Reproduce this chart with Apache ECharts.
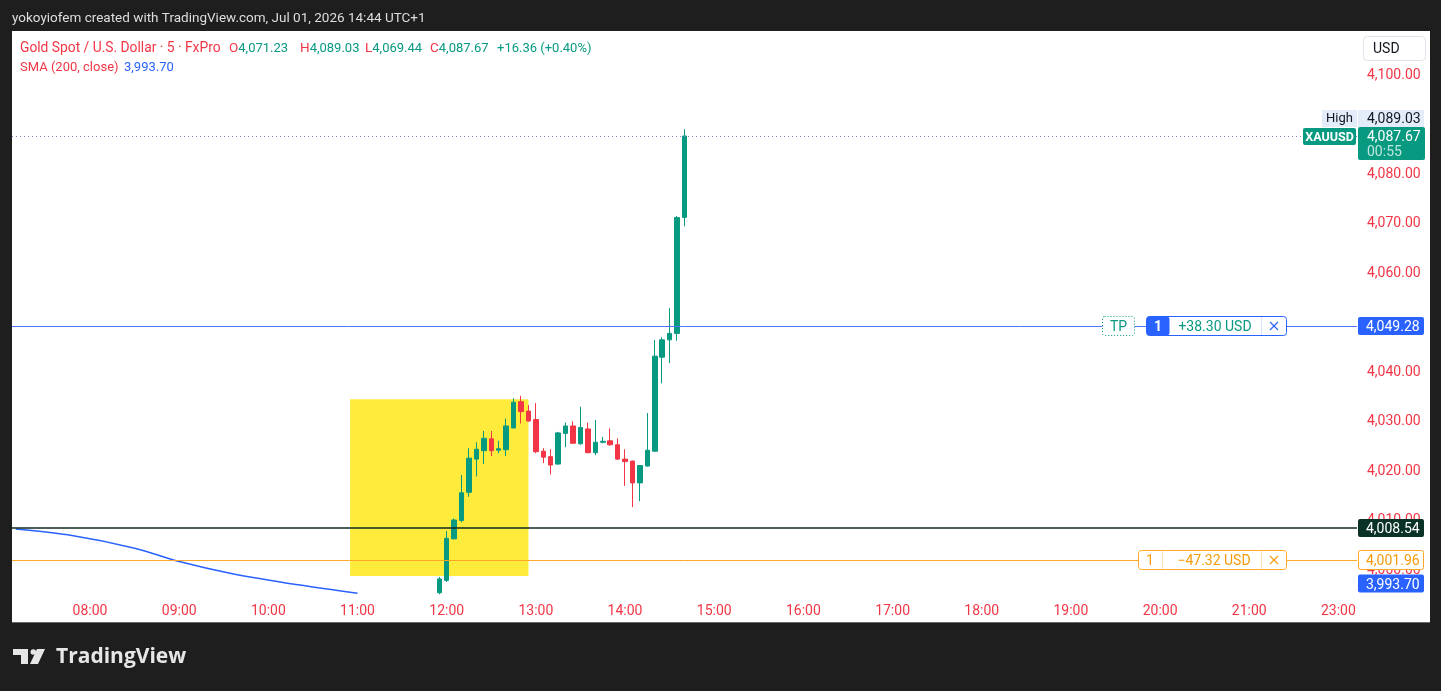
<!DOCTYPE html>
<html>
<head>
<meta charset="utf-8">
<script src="https://cdn.jsdelivr.net/npm/echarts@6/dist/echarts.min.js"></script>
<style>
html,body{margin:0;padding:0;background:#1e1e1e;}
#chart{width:1441px;height:691px;}
</style>
</head>
<body>
<div id="chart"></div>
<script>
// ---- data ----
const sessions = [['07:10', '21:55'], ['23:00', '23:10']];
const candleTimes = ['11:55','12:00','12:05','12:10','12:15','12:20','12:25','12:30','12:35','12:40','12:45','12:50','12:55','13:00','13:05','13:10','13:15','13:20','13:25','13:30','13:35','13:40','13:45','13:50','13:55','14:00','14:05','14:10','14:15','14:20','14:25','14:30','14:35','14:40'];
const opens  = [3995.4,3997.9,4006.3,4010.0,4015.7,4022.4,4024.1,4026.5,4024.2,4024.3,4028.7,4034.0,4032.1,4030.4,4024.0,4022.9,4021.4,4027.6,4029.1,4025.5,4028.5,4023.7,4025.8,4026.1,4025.3,4022.4,4022.0,4017.6,4021.0,4024.0,4043.0,4046.5,4047.8,4071.23];
const highs  = [3998.6,4007.9,4010.4,4019.2,4024.6,4025.8,4028.1,4028.1,4026.1,4030.6,4034.7,4035.2,4033.3,4033.7,4024.6,4024.4,4027.9,4029.8,4030.0,4033.0,4029.8,4030.3,4026.9,4028.6,4026.6,4024.4,4022.1,4021.2,4031.7,4046.5,4047.0,4052.9,4071.5,4089.03];
const lows   = [3995.1,3997.6,4006.2,4009.6,4014.8,4018.9,4021.4,4023.0,4023.6,4023.0,4028.6,4029.6,4030.0,4023.6,4021.6,4019.3,4021.3,4024.8,4025.6,4025.3,4023.6,4023.2,4025.6,4025.1,4022.2,4017.0,4012.7,4013.9,4020.9,4023.9,4037.7,4041.8,4046.3,4069.44];
const closes = [3998.2,4006.4,4010.1,4015.6,4022.6,4024.4,4026.6,4024.1,4024.5,4029.1,4033.9,4032.0,4030.1,4023.9,4022.8,4021.2,4027.7,4029.1,4025.6,4028.8,4023.7,4025.8,4026.0,4025.3,4022.4,4021.9,4017.6,4021.1,4024.2,4043.2,4046.5,4047.8,4071.2,4087.67];
const smaTimes  = ['07:10','07:45','08:30','09:00','09:35','10:20','11:00'];
const smaValues = [4008.3,4007.1,4004.4,4001.7,3999.3,3997.0,3995.3];
const yTicks = { min: 3990, max: 4110, interval: 10 };
const coveredTicks = [4090, 4050];
const levels = { high: 4089.03, last: 4087.67, tp: 4049.28, entry: 4008.54, sl: 4001.96, sma: 3993.70 };
const zone = { start: '10:55', end: '12:55', top: 4034.5, bottom: 3998.8 };
const tpText = '+38.30 USD', slText = '\u221247.32 USD', qty = '1', countdown = '00:55', change = '+16.36 (+0.40%)';

// ---- categories ----
function toMin(s){const p=s.split(':');return (+p[0])*60+(+p[1]);}
function toStr(m){const h=Math.floor(m/60),mm=m%60;return (h<10?'0':'')+h+':'+(mm<10?'0':'')+mm;}
const categories = [];
sessions.forEach(s => { for (let m = toMin(s[0]); m <= toMin(s[1]); m += 5) categories.push(toStr(m)); });

const candleData = categories.map(() => '-');
candleTimes.forEach((t, i) => { candleData[categories.indexOf(t)] = [opens[i], closes[i], lows[i], highs[i]]; });
const smaData = categories.map(() => null);
smaTimes.forEach((t, i) => { smaData[categories.indexOf(t)] = smaValues[i]; });

const fmt = v => v.toLocaleString('en-US', { minimumFractionDigits: 2, maximumFractionDigits: 2 });
const FONT = 'Roboto';
const UP = '#089981', DOWN = '#f23645', BLUE = '#2962ff', ORANGE = '#ffa726', ORTXT = '#f59b0b';

const chart = echarts.init(document.getElementById('chart'));
chart.setOption({
  backgroundColor: '#1e1e1e',
  animation: false,
  grid: { left: 12, right: 84, top: 25.5, bottom: 71.5 },
  xAxis: {
    type: 'category', data: categories, boundaryGap: true,
    axisLine: { show: false }, axisTick: { show: false }, splitLine: { show: false },
    axisLabel: { inside: true, margin: 1, color: DOWN, fontSize: 14, fontFamily: FONT,
      interval: (i, v) => v.endsWith(':00') }
  },
  yAxis: {
    type: 'value', position: 'right', min: yTicks.min, max: yTicks.max, interval: yTicks.interval, scale: true,
    axisLine: { show: false }, axisTick: { show: false }, splitLine: { show: false },
    axisLabel: { color: DOWN, fontSize: 14, fontFamily: FONT, margin: 10,
      formatter: v => (v <= yTicks.min || v >= yTicks.max || coveredTicks.indexOf(v) >= 0) ? '' : fmt(v) }
  },
  series: [
    {
      type: 'line', data: [], z: 1, silent: true,
      markArea: { silent: true, itemStyle: { color: '#ffeb3b' },
        data: [[{ xAxis: zone.start, yAxis: zone.top }, { xAxis: zone.end, yAxis: zone.bottom }]] }
    },
    {
      name: 'SMA', type: 'line', data: smaData, connectNulls: true, symbol: 'none', z: 2, smooth: 0.35,
      lineStyle: { color: BLUE, width: 1.5 }, silent: true
    },
    {
      type: 'candlestick', data: candleData, barWidth: 5, z: 3,
      itemStyle: { color: UP, color0: DOWN, borderColor: UP, borderColor0: DOWN, borderWidth: 1 },
      markLine: {
        silent: true, symbol: ['none', 'none'], label: { show: false },
        data: [
          { yAxis: levels.last, lineStyle: { color: '#8a7fd0', type: [1, 3], width: 1.2 } },
          { yAxis: levels.tp, lineStyle: { color: '#4c74ff', type: 'solid', width: 1 } },
          { yAxis: levels.entry, lineStyle: { color: '#0d2a20', type: 'solid', width: 1.5 } },
          { yAxis: levels.sl, lineStyle: { color: ORANGE, type: 'solid', width: 1 } }
        ]
      }
    }
  ]
});

const Y = v => chart.convertToPixel({ yAxisIndex: 0 }, v);
const TY = 1.5; // text vertical nudge
function rect(x, y, w, h, fill, extra) { return { type: 'rect', z: 100, shape: { x, y, width: w, height: h, r: (extra && extra.r) || 0 }, style: { fill, stroke: (extra && extra.stroke) || null, lineWidth: (extra && extra.lw) || 1, lineDash: (extra && extra.dash) || null } }; }
function text(x, y, t, fill, size, align, weight, family) { return { type: 'text', z: 101, x, y: y + TY, style: { text: t, fill, fontSize: size || 13, fontFamily: family || FONT, fontWeight: weight || 'normal', align: align || 'left', verticalAlign: 'middle' } }; }
function line(x1, y1, x2, y2, stroke, w) { return { type: 'line', z: 101, shape: { x1, y1, x2, y2 }, style: { stroke, lineWidth: w || 1 } }; }
function cross(cx, cy, stroke) { return [line(cx - 4, cy - 4, cx + 4, cy + 4, stroke, 1.1), line(cx - 4, cy + 4, cx + 4, cy - 4, stroke, 1.1)]; }
function pair(x, y, label, value, valColor, size) {
  const s = size || 13.5;
  return { type: 'text', z: 101, x, y: y + TY, style: { fontFamily: FONT, fontSize: s, verticalAlign: 'middle',
    text: '{r|' + label + '}{v|' + value + '}',
    rich: { r: { fill: DOWN, fontSize: s, fontFamily: FONT }, v: { fill: valColor, fontSize: 13, fontFamily: FONT } } } };
}

const yTp = Math.round(Y(levels.tp)), yEn = Math.round(Y(levels.entry)), ySl = Math.round(Y(levels.sl)), yLast = Math.round(Y(levels.last));
const n = opens.length - 1;
const g = [];
// panes
g.push({ type: 'rect', z: -10, shape: { x: 12, y: 31, width: 1418, height: 591 }, style: { fill: '#ffffff' } });
g.push({ type: 'line', z: -9, shape: { x1: 12, y1: 622.5, x2: 1430, y2: 622.5 }, style: { stroke: '#6a6a6a', lineWidth: 1 } });
// header
g.push(text(12, 17, 'yokoyiofem created with TradingView.com, Jul 01, 2026 14:44 UTC+1', '#dedede', 13.5));
// legend
g.push(text(20, 47, 'Gold Spot / U.S. Dollar \u00b7 5 \u00b7 FxPro', DOWN, 13.8));
g.push(pair(229, 47, 'O', fmt(opens[n]), UP));
g.push(pair(300, 47, 'H', fmt(highs[n]), UP));
g.push(pair(365, 47, 'L', fmt(lows[n]), UP));
g.push(pair(430, 47, 'C', fmt(closes[n]), UP));
g.push(pair(497, 47, '', change, UP));
g.push(pair(20, 66, 'SMA (200, close)', '', BLUE, 13));
g.push(pair(124, 66, '', fmt(levels.sma), BLUE));
// USD box
g.push(rect(1363.5, 36.5, 62, 24, '#ffffff', { stroke: '#e0e3eb', r: 4 }));
g.push(text(1373, 48, 'USD', '#131722', 14));
// High label
g.push(rect(1322, 110, 35, 17, '#e3edf9'));
g.push(text(1339.5, 117.5, 'High', '#131722', 13, 'center'));
g.push(rect(1358, 110, 66, 17, '#e3edf9'));
g.push(text(1367, 117.5, fmt(levels.high), '#131722', 14));
// last price
g.push(rect(1303, yLast - 8, 53, 17, UP, { r: 2 }));
g.push(text(1329.5, yLast, 'XAUUSD', '#ffffff', 12.5, 'center', 'bold'));
g.push(rect(1358, yLast - 9, 67, 33, UP, { r: 2 }));
g.push(text(1367, yLast, fmt(levels.last), '#ffffff', 14));
g.push(text(1367, yLast + 15, countdown, '#bfe6dc', 14));
// TP order box
g.push(rect(1102.5, yTp - 9.5, 32, 19, '#ffffff', { stroke: UP, dash: [1, 2], r: 2 }));
g.push(text(1118.5, yTp, 'TP', UP, 14, 'center'));
g.push(rect(1146.5, yTp - 9.5, 140, 19, '#ffffff', { stroke: BLUE, r: 3 }));
g.push(rect(1146.5, yTp - 9.5, 23, 19, BLUE, { r: 3 }));
g.push(text(1158, yTp, qty, '#ffffff', 14, 'center', 'bold'));
g.push(text(1215, yTp, tpText, UP, 14, 'center'));
g.push(line(1261.5, yTp - 9, 1261.5, yTp + 9, '#d6e0ff'));
g.push(...cross(1274, yTp, BLUE));
// SL order box
g.push(rect(1138.5, ySl - 9.5, 148, 19, '#ffffff', { stroke: ORANGE, r: 3 }));
g.push(text(1150, ySl, qty, ORTXT, 14, 'center'));
g.push(line(1162.5, ySl - 9, 1162.5, ySl + 9, '#ffe0b2'));
g.push(text(1214, ySl, slText, ORTXT, 14, 'center'));
g.push(line(1261.5, ySl - 9, 1261.5, ySl + 9, '#ffe0b2'));
g.push(...cross(1274, ySl, ORTXT));
// right tags
g.push(rect(1358, yTp - 9, 66, 18, BLUE, { r: 2 }));
g.push(text(1366, yTp, fmt(levels.tp), '#ffffff', 14));
g.push(rect(1358, yEn - 9, 66, 18, '#0a3226', { r: 2 }));
g.push(text(1366, yEn, fmt(levels.entry), '#ffffff', 14));
g.push(rect(1358.5, ySl - 9.5, 65, 19, '#ffffff', { stroke: ORANGE, r: 2 }));
g.push(text(1366, ySl, fmt(levels.sl), ORTXT, 14));
g.push(rect(1358, 574.5, 66, 18, BLUE, { r: 2 }));
g.push(text(1366, 583.5, fmt(levels.sma), '#ffffff', 14));
// TradingView logo
g.push({ type: 'polygon', z: 101, shape: { points: [[13,649],[28,649],[28,664],[21,664],[21,655],[13,655]] }, style: { fill: '#e6e6e6' } });
g.push({ type: 'circle', z: 101, shape: { cx: 33.3, cy: 652, r: 2.8 }, style: { fill: '#e6e6e6' } });
g.push({ type: 'polygon', z: 101, shape: { points: [[37,649],[45,649],[38,664],[30,664]] }, style: { fill: '#e6e6e6' } });
g.push(text(56, 656, 'TradingView', '#e6e6e6', 21, 'left', 'bold', 'Open Sans'));

chart.setOption({ graphic: g });
</script>
</body>
</html>
